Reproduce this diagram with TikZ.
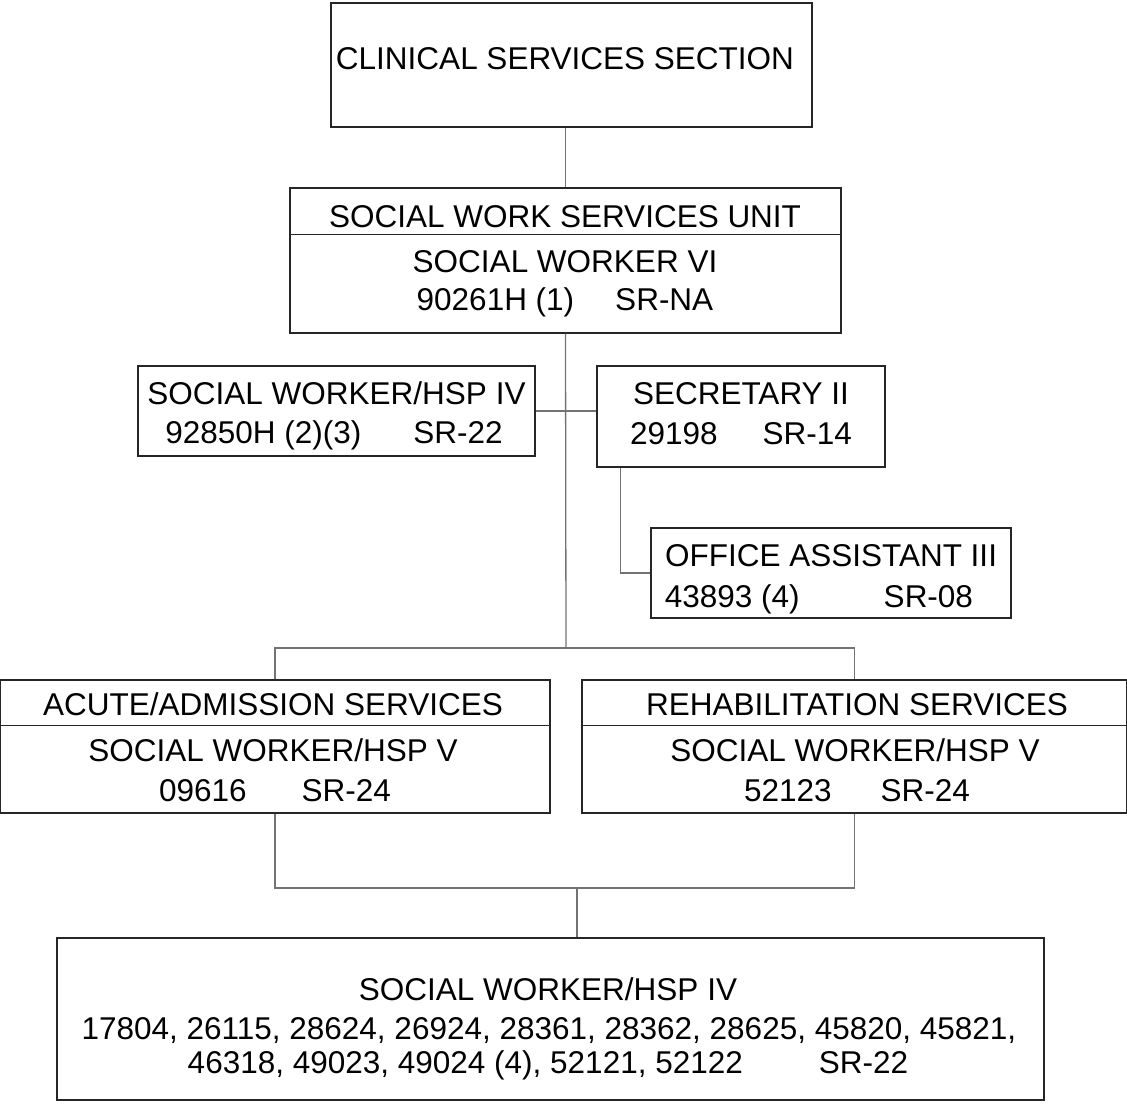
\documentclass[tikz,border=0pt]{standalone}
\usepackage{fontspec}
\setmainfont{Liberation Sans}

\begin{document}
\begin{tikzpicture}[
  x=1pt, y=-1pt,
  font=\fontsize{31.5}{38}\selectfont,
  box/.style={draw=black!85, line width=1.3pt, inner sep=0pt},
  txt/.style={anchor=base, inner sep=0pt},
  conn/.style={draw=black!55, line width=1.3pt},
]
\useasboundingbox (0,0) rectangle (1127,1112);

%% ===== SECTION & UNIT =====

\node[box, minimum width=481pt, minimum height=124pt] (css) at (571.5,65) {};
\node[txt] (csst) at (565,69.5) {CLINICAL SERVICES SECTION};

\node[box, minimum width=551pt, minimum height=145pt] (unit) at (565.5,260.5) {};
\draw[box] ([yshift=-47pt]unit.north west) -- ([yshift=-47pt]unit.north east);
\node[txt] (unith) at (565,227) {SOCIAL WORK SERVICES UNIT};
\node[txt] (unitt) at (565,272) {SOCIAL WORKER VI};
\node[txt] (unitn) at (565,310) {90261H (1)\hspace{41pt}SR-NA};

%% ===== STAFF OF THE UNIT =====

\node[box, minimum width=397pt, minimum height=90pt] (hsp) at (336.5,411) {};
\node[txt] (hspt) at (336.5,404) {SOCIAL WORKER/HSP IV};
\node[txt] (hspn) at (334,443) {92850H (2)(3)\hspace{52pt}SR-22};

\node[box, minimum width=288pt, minimum height=101pt] (sec) at (741,416.5) {};
\node[txt] (sect) at (741,404) {SECRETARY II};
\node[txt] (secn) at (741,444) {29198\hspace{45pt}SR-14};

\node[box, minimum width=360pt, minimum height=90pt] (office) at (831,573) {};
\node[txt] (officet) at (831,566) {OFFICE ASSISTANT III};
\node[txt] (officen) at (819,607) {43893 (4)\hspace{84pt}SR-08};

%% ===== SERVICES =====

\node[box, minimum width=550pt, minimum height=133pt] (acute) at (275,746.5) {};
\draw[box] ([yshift=-46pt]acute.north west) -- ([yshift=-46pt]acute.north east);
\node[txt] (acuteh) at (273,715) {ACUTE/ADMISSION SERVICES};
\node[txt] (acutet) at (273,761) {SOCIAL WORKER/HSP V};
\node[txt] (acuten) at (275,801) {09616\hspace{55pt}SR-24};

\node[box, minimum width=545pt, minimum height=133pt] (rehab) at (854.5,746.5) {};
\draw[box] ([yshift=-46pt]rehab.north west) -- ([yshift=-46pt]rehab.north east);
\node[txt] (rehabh) at (857,715) {REHABILITATION SERVICES};
\node[txt] (rehabt) at (855,761) {SOCIAL WORKER/HSP V};
\node[txt] (rehabn) at (857,801) {52123\hspace{49pt}SR-24};

\node[box, minimum width=987pt, minimum height=162pt] (pool) at (550.5,1019) {};
\node[txt] (poolt) at (548,1000) {SOCIAL WORKER/HSP IV};
\node[txt] (pooln) at (549,1039) {17804, 26115, 28624, 26924, 28361, 28362, 28625, 45820, 45821,};
\node[txt] (poolm) at (548,1073) {46318, 49023, 49024 (4), 52121, 52122\hspace{76pt}SR-22};

%% ===== CONNECTORS =====

\coordinate (split) at (566,648);
\coordinate (merge) at (577,888);

\draw[conn] (unit.north |- css.south) -- (unit.north);
\draw[conn] (unit.south) -- (split);
\draw[conn] (hsp.east) -- (hsp.east -| sec.west);
\draw[conn] ([xshift=24pt]sec.south west) |- (office.west);
\draw[conn] (acute.north) |- (split) -| (rehab.north);
\draw[conn] (acute.south) |- (merge) -| (rehab.south);
\draw[conn] (merge) -- (merge |- pool.north);

\end{tikzpicture}
\end{document}
